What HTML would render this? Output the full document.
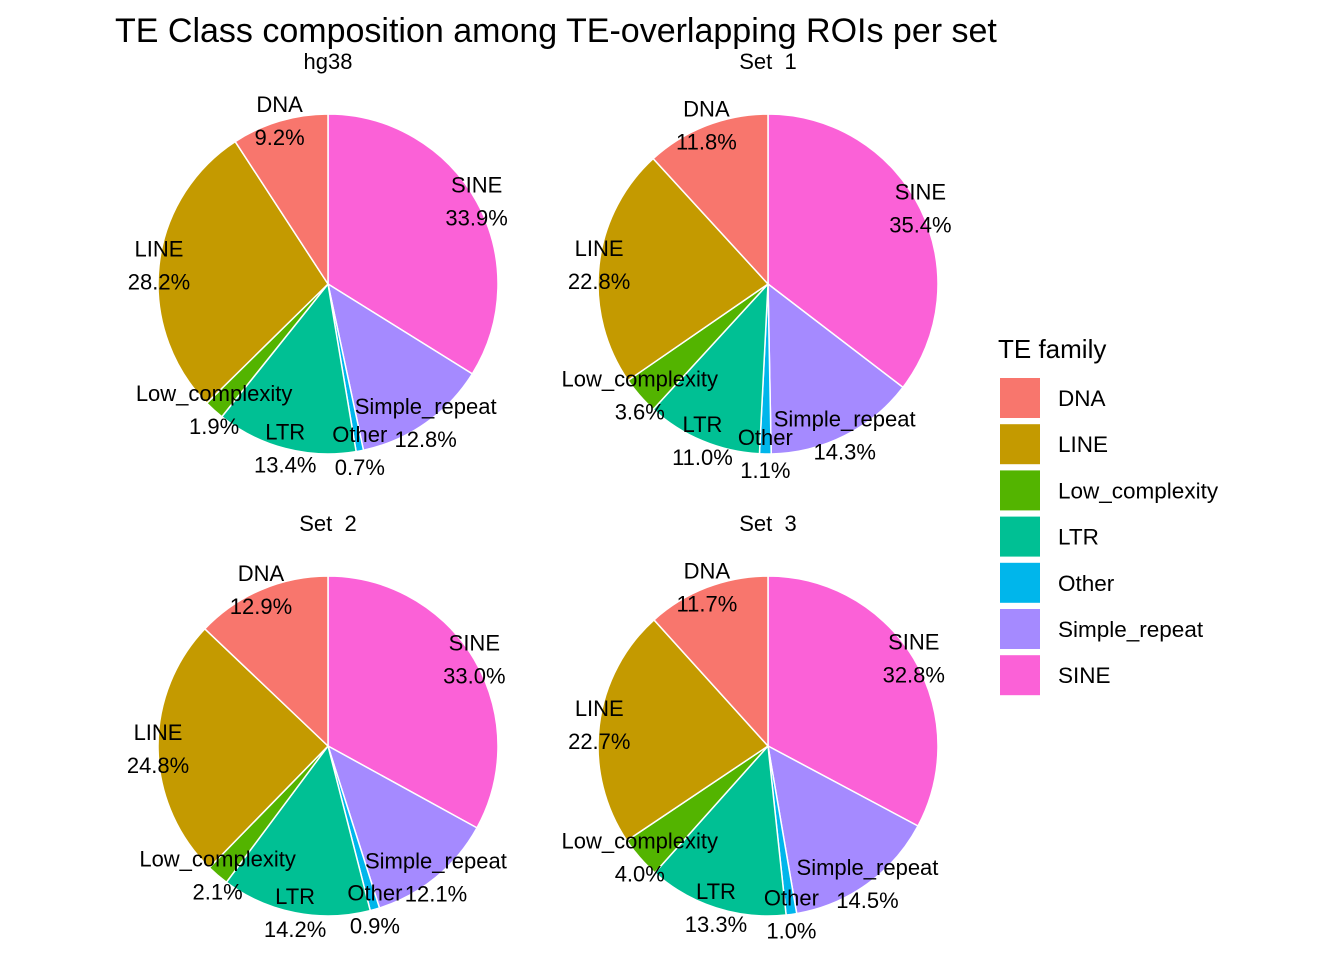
<!DOCTYPE html>
<html><head><meta charset="utf-8"><style>
body{margin:0;background:#fff;}
svg text{font-family:"Liberation Sans",Arial,sans-serif;fill:#000;}
</style></head><body>
<svg id="chart" width="1344" height="960" xmlns="http://www.w3.org/2000/svg">
<rect width="1344" height="960" fill="#fff"/>
<text x="115" y="42" font-size="34">TE Class composition among TE-overlapping ROIs per set</text>
<g id="pies"></g>
<g id="legend"></g>
</svg>
<script>
const categories=["DNA","LINE","Low_complexity","LTR","Other","Simple_repeat","SINE"];
const colors=["#F8766D","#C49A00","#53B400","#00C094","#00B6EB","#A58AFF","#FB61D7"];
const panels=["hg38","Set\u00a0\u00a01","Set\u00a0\u00a02","Set\u00a0\u00a03"];
const hg38Values=[9.2,28.2,1.9,13.4,0.7,12.8,33.9];
const set1Values=[11.8,22.8,3.6,11.0,1.1,14.3,35.4];
const set2Values=[12.9,24.8,2.1,14.2,0.9,12.1,33.0];
const set3Values=[11.7,22.7,4.0,13.3,1.0,14.5,32.8];
const allValues=[hg38Values,set1Values,set2Values,set3Values];

const NS="http://www.w3.org/2000/svg";
const centers=[[328,284],[768,284],[328,746],[768,746]];
const R=170;
function mk(t,a,p){const e=document.createElementNS(NS,t);for(const k in a)e.setAttribute(k,a[k]);p.appendChild(e);return e;}
function pt(cx,cy,r,frac){const a=frac*2*Math.PI;return [cx+r*Math.sin(a),cy-r*Math.cos(a)];}
const pies=document.getElementById('pies');
panels.forEach((p,i)=>{
  const [cx,cy]=centers[i];
  const g=mk('g',{},pies);
  
  
  const t=mk('text',{x:cx,y:cy-215,'font-size':22,'text-anchor':'middle'},g);
  t.textContent=p;
  
  
  const vals=allValues[i];
  const total=vals.reduce((a,b)=>a+b,0);
  let cum=0;
  const labels=[];
  for(let k=categories.length-1;k>=0;k--){
    const f0=cum/total, f1=(cum+vals[k])/total;
    const [x0,y0]=pt(cx,cy,R,f0),[x1,y1]=pt(cx,cy,R,f1);
    const large=(f1-f0)>0.5?1:0;
    const s=mk('path',{d:`M${cx},${cy}L${x0},${y0}A${R},${R} 0 ${large} 1 ${x1},${y1}Z`,fill:colors[k],stroke:'#fff','stroke-width':1.5},g);
    
    
    const [lx,ly]=pt(cx,cy,R,(f0+f1)/2);
    labels.push([lx,ly,categories[k],vals[k]]);
    cum+=vals[k];
  }
  labels.forEach(([lx,ly,c,v])=>{
    const a=mk('text',{x:lx,y:ly-9,'font-size':22,'text-anchor':'middle'},g);
    a.textContent=c;
    
    
    const b=mk('text',{x:lx,y:ly+24,'font-size':22,'text-anchor':'middle'},g);
    b.textContent=v.toFixed(1)+'%';
    
    
  });
});
const lg=document.getElementById('legend');
const lt=mk('text',{x:998,y:358,'font-size':26},lg);
lt.textContent="TE family";


categories.forEach((c,i)=>{
  const y=378+i*46.2;
  const r=mk('rect',{x:1000,y:y,width:40,height:40,fill:colors[i]},lg);
  
  
  const t=mk('text',{x:1058,y:y+28,'font-size':22.5},lg);
  t.textContent=c;
  
  
});
</script>
</body></html>
